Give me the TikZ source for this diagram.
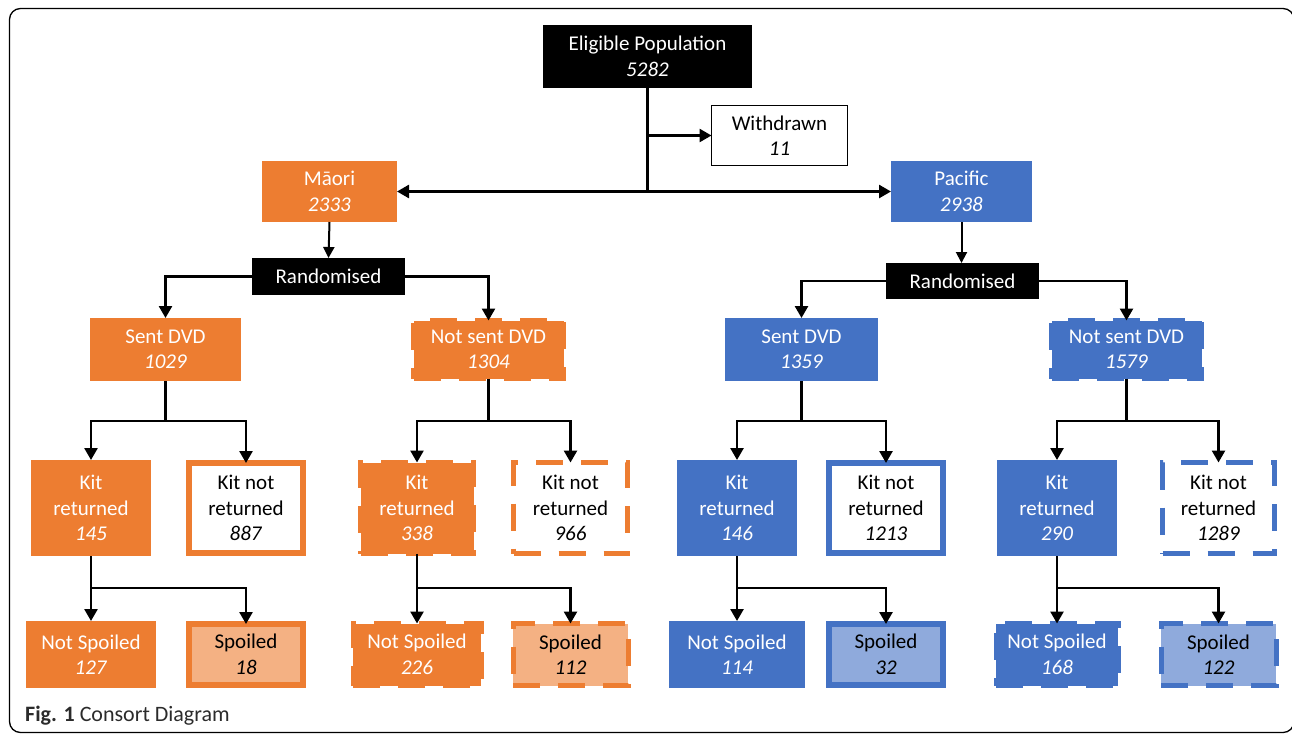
\documentclass[tikz,border=0pt]{standalone}
\usepackage{fontspec}
\setmainfont{Carlito}
\usetikzlibrary{arrows.meta}
\definecolor{orng}{HTML}{ED7D31}
\definecolor{lorng}{HTML}{F4B183}
\definecolor{blu}{HTML}{4472C4}
\definecolor{lblu}{HTML}{8FAADC}
\definecolor{capgray}{HTML}{2B2B2B}
\tikzset{
  box/.style={rectangle, align=center, inner sep=0pt, outer sep=0pt,
    font=\fontsize{21}{25.5}\selectfont},
  blk/.style={box, fill=black, text=white},
  wbox/.style={box, draw=black, line width=1.4pt, fill=white},
  filled/.style={box, fill=#1, text=white},
  dashfilled/.style={box, fill=#1, draw=#1, line width=5pt, dash pattern=on 27pt off 18pt, text=white},
  framed/.style={box, fill=white, draw=#1, line width=6pt},
  dashframed/.style={box, fill=white, draw=#1, line width=5pt, dash pattern=on 27pt off 18pt},
  spoil/.style 2 args={box, fill=#2, draw=#1, line width=6pt},
  dashspoil/.style 2 args={box, fill=#2, draw=#1, line width=5pt, dash pattern=on 27pt off 18pt},
  conn/.style={line width=2.6pt, draw=black},
  arr/.style={conn, -{Triangle[length=12pt,width=13pt]}},
  thinarr/.style={line width=2pt, -{Triangle[length=11pt,width=11pt]}},
}
\begin{document}
\begin{tikzpicture}[x=1pt,y=-1pt]
\useasboundingbox (0,0) rectangle (1292,734);
% frame (right side runs off the page, as in the reference)
\begin{scope}
\clip (0,0) rectangle (1292,734);
\draw[line width=1.3pt, rounded corners=11pt] (9.5,8.5) rectangle (1294,732.5);
\end{scope}

% top
\node[blk, minimum width=209pt, minimum height=63pt] (elig) at (647.5,56.5) {Eligible Population\\\textit{5282}};
\node[wbox, minimum width=136pt, minimum height=60pt] (wd) at (779.5,135.5) {Withdrawn\\\textit{11}};
\node[filled=orng, minimum width=135pt, minimum height=61pt] (maori) at (329.5,191.5) {Māori\\\textit{2333}};
\node[filled=blu, minimum width=141pt, minimum height=61pt] (pac) at (961.5,191.5) {Pacific\\\textit{2938}};

\node[blk, minimum width=153pt, minimum height=37pt] (randL) at (328.5,276.5) {Randomised};
\node[blk, minimum width=153pt, minimum height=36pt] (randR) at (962.5,281) {Randomised};

% DVD level
\node[filled=orng, minimum width=151pt, minimum height=63pt] (sentM) at (165.5,349.5) {Sent DVD\\\textit{1029}};
\node[dashfilled=orng, minimum width=150pt, minimum height=58pt] (notM) at (488.5,349.5) {Not sent DVD\\\textit{1304}};
\node[filled=blu, minimum width=153pt, minimum height=63pt] (sentP) at (801.5,349.5) {Sent DVD\\\textit{1359}};
\node[dashfilled=blu, minimum width=150pt, minimum height=58pt] (notP) at (1126.5,349.5) {Not sent DVD\\\textit{1579}};

% kit level
\node[filled=orng, minimum width=120pt, minimum height=96pt] (krM1) at (91,508) {Kit\\returned\\\textit{145}};
\node[framed=orng, minimum width=114pt, minimum height=90pt] (knM1) at (246,508) {Kit not\\returned\\\textit{887}};
\node[dashfilled=orng, minimum width=113pt, minimum height=91pt] (krM2) at (417,508) {Kit\\returned\\\textit{338}};
\node[dashframed=orng, minimum width=114pt, minimum height=91pt] (knM2) at (570.5,508) {Kit not\\returned\\\textit{966}};
\node[filled=blu, minimum width=120pt, minimum height=96pt] (krP1) at (737,508) {Kit\\returned\\\textit{146}};
\node[framed=blu, minimum width=114pt, minimum height=90pt] (knP1) at (886,508) {Kit not\\returned\\\textit{1213}};
\node[filled=blu, minimum width=120pt, minimum height=96pt] (krP2) at (1057,508) {Kit\\returned\\\textit{290}};
\node[dashframed=blu, minimum width=112pt, minimum height=91pt] (knP2) at (1218.5,508) {Kit not\\returned\\\textit{1289}};

% spoil level
\node[filled=orng, minimum width=130pt, minimum height=67pt] (nsM1) at (91,654.5) {Not Spoiled\\\textit{127}};
\node[spoil={orng}{lorng}, text=black, minimum width=114pt, minimum height=61pt] (spM1) at (246,654.5) {Spoiled\\\textit{18}};
\node[dashfilled=orng, minimum width=128pt, minimum height=62pt] (nsM2) at (417,654.5) {Not Spoiled\\\textit{226}};
\node[dashspoil={orng}{lorng}, text=black, minimum width=115pt, minimum height=62pt] (spM2) at (570.5,654.5) {Spoiled\\\textit{112}};
\node[filled=blu, minimum width=136pt, minimum height=67pt] (nsP1) at (737,654.5) {Not Spoiled\\\textit{114}};
\node[spoil={blu}{lblu}, text=black, minimum width=114pt, minimum height=61pt] (spP1) at (886,654.5) {Spoiled\\\textit{32}};
\node[dashfilled=blu, minimum width=122pt, minimum height=62pt] (nsP2) at (1057,654.5) {Not Spoiled\\\textit{168}};
\node[dashspoil={blu}{lblu}, text=black, minimum width=115pt, minimum height=62pt] (spP2) at (1218.5,654.5) {Spoiled\\\textit{122}};

% caption
\node[anchor=base west, inner sep=0pt, text=capgray, font=\fontsize{22}{26}\selectfont] (cap) at (25,721) {\textbf{Fig. 1} Consort Diagram};

% connectors top
\coordinate (jx) at (elig.south |- maori.east);
\draw[conn] (elig.south) -- (jx);
\draw[arr] (elig.south |- wd.west) -- (wd.west);
\draw[arr] (jx) -- (maori.east);
\draw[arr] (jx) -- (pac.west);
\draw[thinarr] (maori.south) -- (randL.north);
\draw[thinarr] (pac.south) -- (pac.south |- randR.north);

% randomised
\draw[arr] (randL.west) -| (sentM.north);
\draw[arr] (randL.east) -| (notM.north);
\draw[arr] (randR.west) -| (sentP.north);
\draw[arr] (randR.east) -| (notP.north);

% DVD -> kits
\foreach \p/\a/\b in {sentM/krM1/knM1, notM/krM2/knM2, sentP/krP1/knP1, notP/krP2/knP2}{
  \draw[conn] (\p.south) -- (\p.south |- 0,421);
  \draw[arr] (\p.south |- 0,421) -| (\a.north);
  \draw[arr] (\p.south |- 0,421) -| (\b.north);
}
% kits -> spoil
\foreach \p/\a/\b in {krM1/nsM1/spM1, krM2/nsM2/spM2, krP1/nsP1/spP1, krP2/nsP2/spP2}{
  \draw[conn] (\p.south) -- (\p.south |- 0,588);
  \draw[arr] (\p.south |- 0,588) -- (\a.north);
  \draw[arr] (\p.south |- 0,588) -| (\b.north);
}
\end{tikzpicture}
\end{document}
